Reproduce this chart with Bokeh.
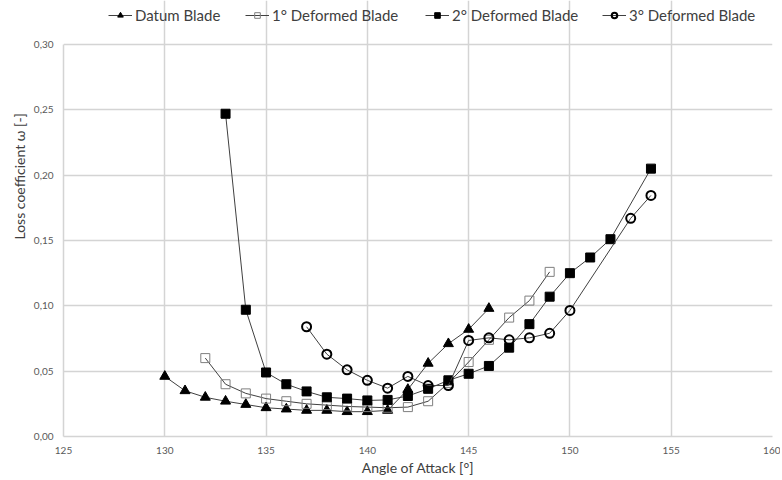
from bokeh.plotting import figure
from bokeh.models import FixedTicker, Legend, LegendItem, Range1d, Title
from bokeh.embed import file_html
from bokeh.resources import INLINE

# ---- data ----
datum_x = [130, 131, 132, 133, 134, 135, 136, 137, 138, 139, 140, 141, 142, 143, 144, 145, 146]
datum_y = [0.046, 0.035, 0.030, 0.027, 0.0245, 0.022, 0.021, 0.020, 0.020, 0.019, 0.019, 0.020,
           0.036, 0.056, 0.071, 0.082, 0.098]

def1_x = [132, 133, 134, 135, 136, 137, 138, 139, 140, 141, 142, 143, 144, 145, 146, 147, 148, 149]
def1_y = [0.060, 0.040, 0.033, 0.029, 0.027, 0.025, 0.024, 0.023, 0.0225, 0.022, 0.0225, 0.027,
          0.041, 0.057, 0.074, 0.091, 0.104, 0.126]

def2_x = [133, 134, 135, 136, 137, 138, 139, 140, 141, 142, 143, 144, 145, 146, 147, 148, 149, 150,
          151, 152, 154]
def2_y = [0.247, 0.097, 0.049, 0.040, 0.0345, 0.030, 0.029, 0.0276, 0.028, 0.031, 0.0365, 0.043,
          0.048, 0.054, 0.068, 0.086, 0.107, 0.125, 0.137, 0.151, 0.205]

def3_x = [137, 138, 139, 140, 141, 142, 143, 144, 145, 146, 147, 148, 149, 150, 153, 154]
def3_y = [0.084, 0.063, 0.051, 0.043, 0.037, 0.046, 0.039, 0.039, 0.0735, 0.0755, 0.074, 0.0755,
          0.079, 0.0965, 0.167, 0.1845]

labels = ["Datum Blade", "1° Deformed Blade", "2° Deformed Blade", "3° Deformed Blade"]
x_ticks = [125, 130, 135, 140, 145, 150, 155, 160]
y_ticks = [0.0, 0.05, 0.10, 0.15, 0.20, 0.25, 0.30]
y_tick_labels = ["0,00", "0,05", "0,10", "0,15", "0,20", "0,25", "0,30"]
x_title = "Angle of Attack [°]"
y_title = "Loss coefficient ω [-]"
x_min, x_max = 125, 160
y_min, y_max = 0.0, 0.30

FONT = "Lato"
LINE = "#404040"
GRID = "#d4d4d4"

# frame spans the legend strip too: the plotted area (0..0.30) occupies the
# lower 392 px of a 436 px tall frame; grid and axis are bounded to 0..0.30
FRAME_H, PLOT_H = 436, 392
y_top = y_max * FRAME_H / PLOT_H

p = figure(width=780, height=478, output_backend="svg", toolbar_location=None,
           x_range=Range1d(x_min, x_max), y_range=Range1d(y_min, y_top),
           min_border_left=63, min_border_right=8, min_border_top=0, min_border_bottom=42)
p.outline_line_color = None
p.background_fill_color = "white"

for ax in (p.xaxis[0], p.yaxis[0]):
    ax.axis_line_color = GRID
    ax.axis_line_width = 1.5
    ax.major_tick_line_color = None
    ax.minor_tick_line_color = None
    ax.major_tick_out = 0
    ax.major_tick_in = 0
    ax.major_label_text_font = FONT
    ax.major_label_text_font_size = "10px"
    ax.major_label_text_color = "#595959"
    ax.axis_label_text_font = FONT
    ax.axis_label_text_font_size = "14px"
    ax.axis_label_text_font_style = "normal"
    ax.axis_label_text_color = "#404040"

p.xaxis.ticker = FixedTicker(ticks=x_ticks)
p.yaxis.ticker = FixedTicker(ticks=y_ticks)
p.yaxis.bounds = (y_min, y_max)
p.yaxis.major_label_overrides = {t: l for t, l in zip(y_ticks, y_tick_labels)}
p.xaxis.axis_label = x_title
p.xaxis.major_label_standoff = 10
p.xaxis.axis_label_standoff = 2
p.yaxis.major_label_standoff = 10

# y-axis title as a side title, so it can sit where the reference puts it
yt = Title(text=y_title, align="left", offset=197, standoff=6,
           text_font=FONT, text_font_size="14px", text_font_style="normal",
           text_color="#404040")
p.add_layout(yt, "left")

p.xgrid.grid_line_color = GRID
p.ygrid.grid_line_color = GRID
p.xgrid.grid_line_width = 1.5
p.ygrid.grid_line_width = 1.5
p.xgrid.bounds = (y_min, y_max)

# series
l0 = p.line(datum_x, datum_y, line_color=LINE, line_width=1)
m0 = p.scatter(datum_x, datum_y, marker="triangle", size=10, fill_color="black", line_color="black")

l1 = p.line(def1_x, def1_y, line_color=LINE, line_width=1)
m1 = p.scatter(def1_x, def1_y, marker="square", size=9, fill_alpha=0, line_color="#7f7f7f", line_width=1)

l2 = p.line(def2_x, def2_y, line_color=LINE, line_width=1)
m2 = p.scatter(def2_x, def2_y, marker="square", size=9, fill_color="black", line_color="black")

l3 = p.line(def3_x, def3_y, line_color=LINE, line_width=1)
m3 = p.scatter(def3_x, def3_y, marker="circle", size=9, fill_alpha=0, line_color="black", line_width=2)

renderers = [(l0, m0), (l1, m1), (l2, m2), (l3, m3)]
leg_x = [45, 182, 362, 539]
for (lr, mr), lab, lx in zip(renderers, labels, leg_x):
    leg = Legend(items=[LegendItem(label=lab, renderers=[lr, mr])], location=(lx, 412),
                 orientation="horizontal", padding=0, margin=0, spacing=0,
                 glyph_width=24, glyph_height=14, label_standoff=3, label_height=14,
                 label_text_font=FONT, label_text_font_size="15px", label_text_color="#404040",
                 background_fill_alpha=0, border_line_color=None)
    p.add_layout(leg)

open("out.html", "w").write(file_html(p, INLINE))
